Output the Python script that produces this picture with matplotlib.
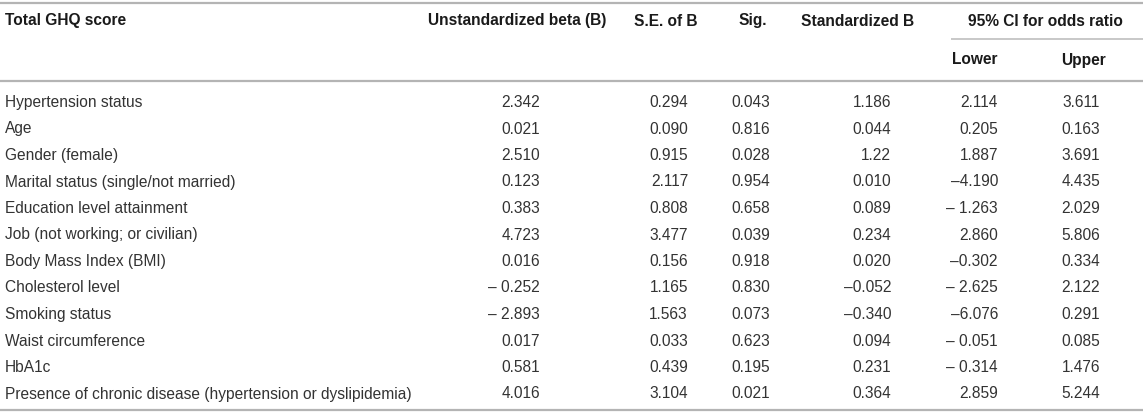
import matplotlib
matplotlib.use("Agg")
import matplotlib.pyplot as plt

# table contents
row_labels = [
    "Hypertension status",
    "Age",
    "Gender (female)",
    "Marital status (single/not married)",
    "Education level attainment",
    "Job (not working; or civilian)",
    "Body Mass Index (BMI)",
    "Cholesterol level",
    "Smoking status",
    "Waist circumference",
    "HbA1c",
    "Presence of chronic disease (hypertension or dyslipidemia)",
]
unstd_b = ["2.342", "0.021", "2.510", "0.123", "0.383", "4.723", "0.016",
           "\u2013 0.252", "\u2013 2.893", "0.017", "0.581", "4.016"]
se_b = ["0.294", "0.090", "0.915", "2.117", "0.808", "3.477", "0.156",
        "1.165", "1.563", "0.033", "0.439", "3.104"]
sig = ["0.043", "0.816", "0.028", "0.954", "0.658", "0.039", "0.918",
       "0.830", "0.073", "0.623", "0.195", "0.021"]
std_b = ["1.186", "0.044", "1.22", "0.010", "0.089", "0.234", "0.020",
         "\u20130.052", "\u20130.340", "0.094", "0.231", "0.364"]
ci_lower = ["2.114", "0.205", "1.887", "\u20134.190", "\u2013 1.263", "2.860",
            "\u20130.302", "\u2013 2.625", "\u20136.076", "\u2013 0.051",
            "\u2013 0.314", "2.859"]
ci_upper = ["3.611", "0.163", "3.691", "4.435", "2.029", "5.806", "0.334",
            "2.122", "0.291", "0.085", "1.476", "5.244"]

headers = ["Unstandardized beta (B)", "S.E. of B", "Sig.", "Standardized B"]
sub_headers = ["Lower", "Upper"]
group_header = "95% CI for odds ratio"

W, H = 1143, 418
fig = plt.figure(figsize=(W / 100, H / 100), dpi=100)
ax = fig.add_axes([0, 0, 1, 1])
ax.set_xlim(0, W)
ax.set_ylim(H, 0)
ax.axis("off")

plt.rcParams["font.family"] = ["Liberation Sans", "DejaVu Sans"]
fs = 11.2
txt = "#333333"
head_c = "#1a1a1a"
line_c = "#b4b4b4"

# column geometry (right edge for numbers, centre for headers)
col_right = [540, 688, 770, 891, 998, 1100]
head_x = [517, 666, 753, 858, 975, 1083]

# rules
ax.plot([0, W], [2.5, 2.5], color=line_c, lw=1.6, solid_capstyle="butt")
ax.plot([951, W], [39, 39], color="#c4c4c4", lw=1.3, solid_capstyle="butt")
ax.plot([0, W], [80.5, 80.5], color=line_c, lw=1.6, solid_capstyle="butt")
ax.plot([0, W], [410, 410], color=line_c, lw=1.6, solid_capstyle="butt")

# header
ax.text(5, 21, "Total GHQ score", ha="left", va="center", fontsize=fs,
        fontweight="bold", color=head_c)
for x, h in zip(head_x[:4], headers):
    ax.text(x, 21, h, ha="center", va="center", fontsize=fs,
            fontweight="bold", color=head_c)
ax.text(1045, 21, group_header, ha="center", va="center", fontsize=fs,
        fontweight="bold", color=head_c)
for x, h in zip(head_x[4:], sub_headers):
    ax.text(x, 60, h, ha="center", va="center", fontsize=fs,
            fontweight="bold", color=head_c)

# body
columns = [unstd_b, se_b, sig, std_b, ci_lower, ci_upper]
y0, dy = 102.5, 26.5
for i, label in enumerate(row_labels):
    y = y0 + i * dy
    ax.text(5, y, label, ha="left", va="center", fontsize=fs, color=txt)
    for x, col in zip(col_right, columns):
        ax.text(x, y, col[i], ha="right", va="center", fontsize=fs, color=txt)

fig.savefig("out.png", dpi=100)
